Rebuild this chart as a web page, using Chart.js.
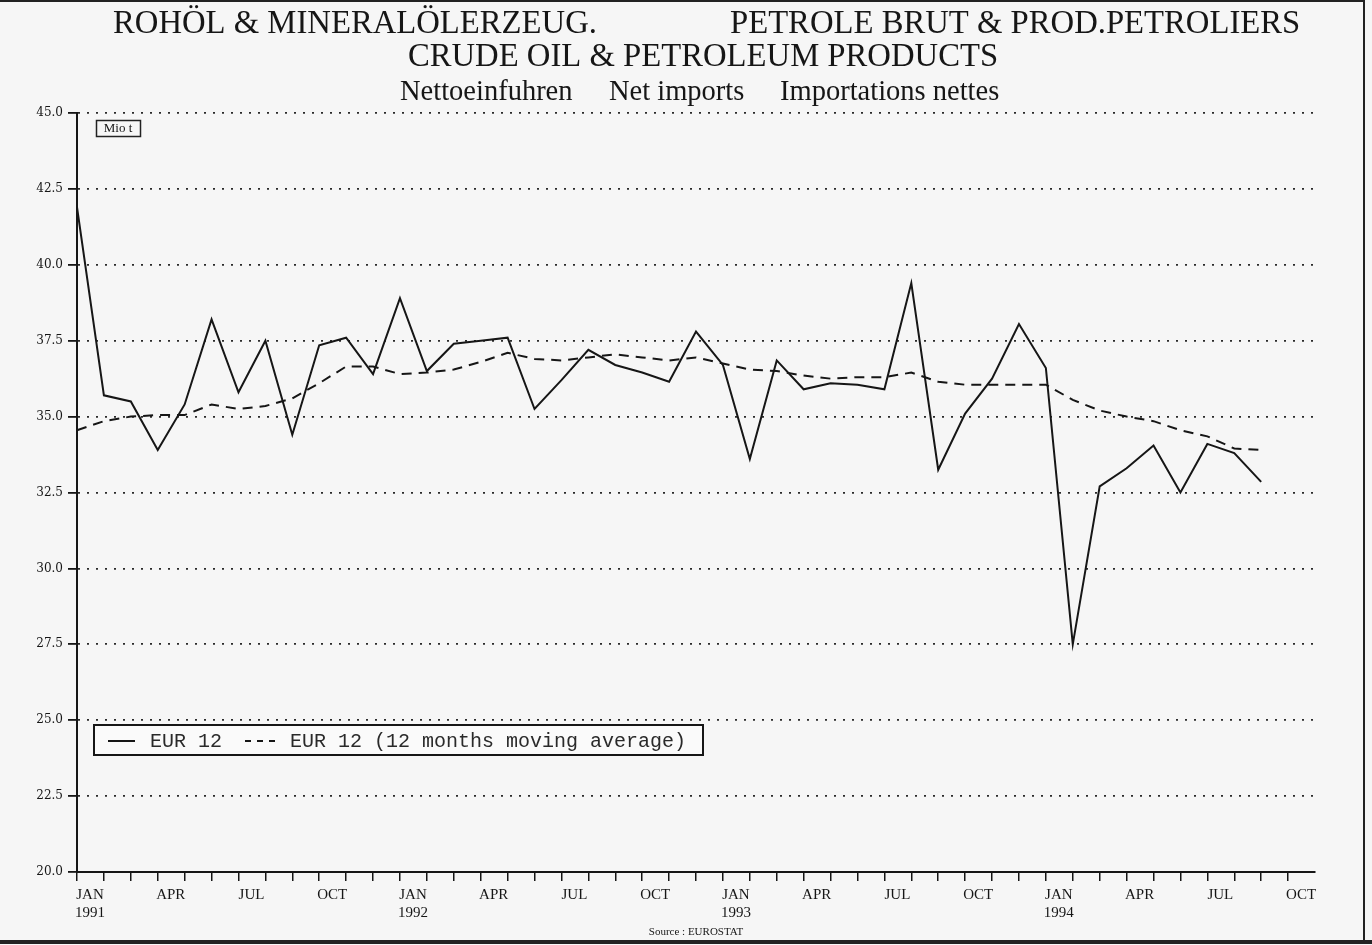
<!DOCTYPE html>
<html>
<head>
<meta charset="utf-8">
<script src="https://cdn.jsdelivr.net/npm/chart.js@4.4.0/dist/chart.umd.min.js"></script>
<style>
  html, body { margin: 0; padding: 0; background: #f6f6f6; }
  canvas { display: block; }
</style>
</head>
<body>
<canvas id="chart" width="1372" height="945"></canvas>
<script>
// Nettoeinfuhren / Net imports / Importations nettes, EUR 12, Mio t
const YEARS = [1991, 1992, 1993, 1994];
const MONTHS = ['JAN', 'FEB', 'MAR', 'APR', 'MAY', 'JUN', 'JUL', 'AUG', 'SEP', 'OCT', 'NOV', 'DEC'];
const LABELLED_MONTHS = ['JAN', 'APR', 'JUL', 'OCT'];
// Jan 1991 .. Nov 1994 (axis runs one month past the last label)
const CATEGORIES = YEARS.flatMap(y => MONTHS.map(m => m + ' ' + y)).slice(0, 47);

const NET_IMPORTS = [
  41.9, 35.7, 35.5, 33.9, 35.4, 38.2, 35.8, 37.5, 34.4, 37.35, 37.6, 36.4,
  38.9, 36.5, 37.4, 37.5, 37.6, 35.25, 36.2, 37.2, 36.7, 36.45, 36.15, 37.8,
  36.7, 33.6, 36.85, 35.9, 36.1, 36.05, 35.9, 39.4, 33.25, 35.1, 36.25, 38.05,
  36.6, 27.5, 32.7, 33.3, 34.05, 32.5, 34.1, 33.8, 32.85
];
const MOVING_AVG = [
  34.55, 34.85, 35.0, 35.05, 35.05, 35.4, 35.25, 35.35, 35.6, 36.1, 36.65, 36.65,
  36.4, 36.45, 36.55, 36.8, 37.1, 36.9, 36.85, 36.95, 37.05, 36.95, 36.85, 36.95,
  36.75, 36.55, 36.5, 36.35, 36.25, 36.3, 36.3, 36.45, 36.15, 36.05, 36.05, 36.05,
  36.05, 35.55, 35.2, 35.0, 34.85, 34.55, 34.35, 33.95, 33.9
];

const Y_MIN = 20, Y_MAX = 45, Y_STEP = 2.5;

const SERIF = '"Liberation Serif", "Times New Roman", serif';
const MONO = '"Liberation Mono", "Courier New", monospace';
const INK = '#161616';

// page decoration: background, frame, titles, unit box, legend, source
const decor = {
  id: 'decor',
  beforeDraw(chart) {
    const ctx = chart.ctx;
    ctx.save();
    ctx.fillStyle = '#f6f6f6';
    ctx.fillRect(0, 0, chart.width, chart.height);
    ctx.restore();
  },
  afterDraw(chart) {
    const ctx = chart.ctx;
    const ds = chart.data.datasets;
    ctx.save();

    // scan frame
    ctx.strokeStyle = '#222';
    ctx.lineWidth = 2;
    ctx.beginPath();
    ctx.moveTo(0, 1); ctx.lineTo(1364, 1); ctx.lineTo(1364, 941);
    ctx.stroke();
    ctx.lineWidth = 4;
    ctx.beginPath();
    ctx.moveTo(0, 942); ctx.lineTo(1372, 942);
    ctx.stroke();

    // titles
    ctx.fillStyle = INK;
    ctx.textBaseline = 'alphabetic';
    ctx.font = '32.7px ' + SERIF;
    ctx.textAlign = 'left';
    ctx.fillText('ROHÖL & MINERALÖLERZEUG.', 113, 33);
    ctx.fillText('PETROLE BRUT & PROD.PETROLIERS', 730, 33);
    ctx.textAlign = 'center';
    ctx.fillText('CRUDE OIL & PETROLEUM PRODUCTS', 703, 66);
    ctx.font = '28.5px ' + SERIF;
    ctx.textAlign = 'left';
    ctx.fillText('Nettoeinfuhren', 400, 100);
    ctx.fillText('Net imports', 609, 100);
    ctx.fillText('Importations nettes', 780, 100);

    // unit box
    ctx.font = '13px ' + SERIF;
    ctx.textAlign = 'center';
    ctx.textBaseline = 'middle';
    ctx.fillText('Mio t', 118, 129);
    ctx.lineWidth = 1.5;
    ctx.strokeRect(96.5, 120.5, 44, 16);

    // legend
    ctx.fillStyle = '#fafafa';
    ctx.fillRect(94, 725, 609, 30);
    ctx.lineWidth = 2;
    ctx.strokeStyle = INK;
    ctx.strokeRect(94, 725, 609, 30);
    ctx.beginPath();
    ctx.moveTo(108, 741); ctx.lineTo(135, 741);
    ctx.stroke();
    ctx.setLineDash([6, 6]);
    ctx.beginPath();
    ctx.moveTo(245, 741); ctx.lineTo(275, 741);
    ctx.stroke();
    ctx.setLineDash([]);
    ctx.fillStyle = '#2a2a2a';
    ctx.font = '20px ' + MONO;
    ctx.textAlign = 'left';
    ctx.fillText(ds[0].label, 150, 742);
    ctx.fillText(ds[1].label, 290, 742);

    // source
    ctx.fillStyle = INK;
    ctx.font = '11px ' + SERIF;
    ctx.textAlign = 'center';
    ctx.textBaseline = 'alphabetic';
    ctx.fillText('Source : EUROSTAT', 696, 935);
    ctx.restore();
  }
};

new Chart(document.getElementById('chart'), {
  type: 'line',
  data: {
    labels: CATEGORIES,
    datasets: [
      {
        label: 'EUR 12',
        data: NET_IMPORTS,
        borderColor: INK,
        borderWidth: 2,
        pointRadius: 0,
        tension: 0,
      },
      {
        label: 'EUR 12 (12 months moving average)',
        data: MOVING_AVG,
        borderColor: INK,
        borderWidth: 2,
        borderDash: [10, 7],
        pointRadius: 0,
        tension: 0,
      },
    ],
  },
  options: {
    responsive: false,
    animation: false,
    layout: { padding: { top: 113, right: 57, bottom: 0, left: 0 } },
    plugins: {
      legend: { display: false },
      title: { display: false },
      tooltip: { enabled: false },
    },
    scales: {
      x: {
        type: 'category',
        offset: false,
        afterFit: s => { s.height = 73; },
        grid: {
          drawOnChartArea: false,
          tickLength: 9,
          lineWidth: 1.5,
          tickColor: c => (c.index === CATEGORIES.length - 1 ? 'transparent' : INK),
        },
        border: { color: INK, width: 2 },
        ticks: {
          autoSkip: false,
          maxRotation: 0,
          labelOffset: 13,
          padding: 5,
          color: INK,
          font: { family: SERIF, size: 15 },
          callback: function (v, i) {
            const [m, y] = CATEGORIES[i].split(' ');
            if (!LABELLED_MONTHS.includes(m) || i === CATEGORIES.length - 1) return '';
            return m === 'JAN' ? [m, y] : m;
          },
        },
      },
      y: {
        min: Y_MIN,
        max: Y_MAX,
        afterFit: s => { s.width = 77; },
        grid: {
          color: '#2a2a2a',
          lineWidth: 1.8,
          tickLength: 9,
          tickColor: INK,
        },
        border: { color: INK, width: 2, dash: [2, 7] },
        ticks: {
          stepSize: Y_STEP,
          padding: 5,
          color: INK,
          font: { family: '"DejaVu Serif", serif', size: 12 },
          callback: v => v.toFixed(1),
        },
      },
    },
  },
  plugins: [decor],
});
</script>
</body>
</html>
